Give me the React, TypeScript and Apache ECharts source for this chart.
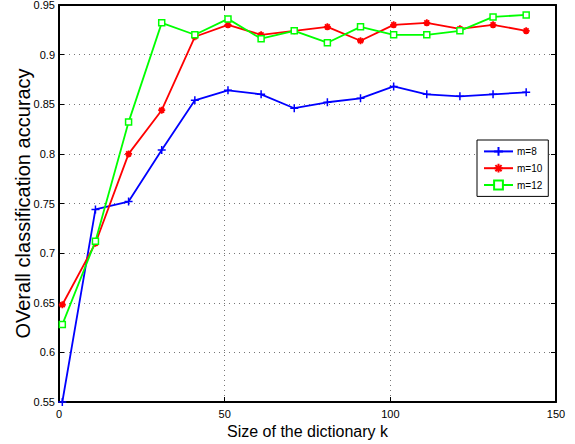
import React, { useEffect, useRef } from "react";
import * as echarts from "echarts";

const kValues = [1, 11, 21, 31, 41, 51, 61, 71, 81, 91, 101, 111, 121, 131, 141];
const m8 = [0.55, 0.744, 0.752, 0.804, 0.854, 0.864, 0.86, 0.846, 0.852, 0.856, 0.868, 0.86, 0.858, 0.86, 0.862];
const m10 = [0.648, 0.71, 0.8, 0.844, 0.918, 0.93, 0.92, 0.924, 0.928, 0.914, 0.93, 0.932, 0.926, 0.93, 0.924];
const m12 = [0.628, 0.712, 0.832, 0.932, 0.92, 0.936, 0.916, 0.924, 0.912, 0.928, 0.92, 0.92, 0.924, 0.938, 0.94];
const seriesNames = ["m=8", "m=10", "m=12"];
const xTitle = "Size of the dictionary k";
const yTitle = "OVerall classification accuracy";

const FONT = "'Liberation Sans', Arial, Helvetica, sans-serif";

const plusPath = "path://M5,0L5,10M0,5L10,5";
const starPath = "path://M5,0L5,10M0,5L10,5M1.5,1.5L8.5,8.5M8.5,1.5L1.5,8.5";

export default function App() {
  const ref = useRef<HTMLDivElement>(null);
  useEffect(() => {
    if (!ref.current) return;
    const chart = echarts.init(ref.current, null, { renderer: "svg" });
    const pairs = (vals: number[]) => kValues.map((k, i) => [k, vals[i]]);
    const gridLine = { show: true, lineStyle: { color: "#777", width: 1, type: [1, 4] as any } };
    chart.setOption({
      animation: false,
      backgroundColor: "#fff",
      grid: { left: 59, top: 5, right: 19, bottom: 42, containLabel: false, outerBoundsMode: "none" },
      legend: {
        orient: "vertical",
        left: 477,
        top: 140,
        padding: [6, 6, 6, 6],
        itemGap: 6,
        itemWidth: 29,
        itemHeight: 11,
        borderColor: "#000",
        borderWidth: 1,
        borderRadius: 0,
        backgroundColor: "#fff",
        textStyle: { fontFamily: FONT, fontSize: 10, color: "#000", padding: [0, 0, 0, -1] },
        data: seriesNames,
      },
      xAxis: [
        {
          type: "value",
          min: 0,
          max: 150,
          interval: 50,
          name: xTitle,
          nameLocation: "middle",
          nameGap: 21,
          nameMoveOverlap: false,
          nameTextStyle: { fontFamily: FONT, fontSize: 16, color: "#000" },
          axisLine: { show: true, onZero: false, lineStyle: { color: "#000", width: 2 } },
          axisTick: { show: true, inside: true, length: 5, lineStyle: { color: "#000" } },
          axisLabel: { fontFamily: FONT, fontSize: 11, color: "#000", margin: 6 },
          splitLine: gridLine,
        },
        {
          type: "value",
          position: "top",
          min: 0,
          max: 150,
          interval: 50,
          axisLine: { show: true, onZero: false, lineStyle: { color: "#000", width: 2 } },
          axisTick: { show: true, inside: true, length: 5, lineStyle: { color: "#000" } },
          axisLabel: { show: false },
          splitLine: { show: false },
        },
      ],
      yAxis: [
        {
          type: "value",
          min: 0.55,
          max: 0.95,
          interval: 0.05,
          name: yTitle,
          nameLocation: "middle",
          nameGap: 26,
          nameMoveOverlap: false,
          nameTextStyle: { fontFamily: FONT, fontSize: 20, color: "#000" },
          axisLine: { show: true, onZero: false, lineStyle: { color: "#000", width: 2 } },
          axisTick: { show: true, inside: true, length: 5, lineStyle: { color: "#000" } },
          axisLabel: {
            fontFamily: FONT,
            fontSize: 11,
            color: "#000",
            margin: 4,
            formatter: (v: number) => String(parseFloat(v.toFixed(2))),
          },
          splitLine: gridLine,
        },
        {
          type: "value",
          position: "right",
          min: 0.55,
          max: 0.95,
          interval: 0.05,
          axisLine: { show: true, onZero: false, lineStyle: { color: "#000", width: 2 } },
          axisTick: { show: true, inside: true, length: 5, lineStyle: { color: "#000" } },
          axisLabel: { show: false },
          splitLine: { show: false },
        },
      ],
      series: [
        {
          name: seriesNames[0],
          type: "line",
          data: pairs(m8),
          lineStyle: { color: "#0000ff", width: 1.8 },
          symbol: plusPath,
          symbolSize: 8,
          itemStyle: { color: "#0000ff", borderColor: "#0000ff", borderWidth: 1.5 },
          z: 3,
        },
        {
          name: seriesNames[1],
          type: "line",
          data: pairs(m10),
          lineStyle: { color: "#ff0000", width: 1.8 },
          symbol: starPath,
          symbolSize: 7,
          itemStyle: { color: "#ff0000", borderColor: "#ff0000", borderWidth: 1.8 },
          z: 4,
        },
        {
          name: seriesNames[2],
          type: "line",
          data: pairs(m12),
          lineStyle: { color: "#00ff00", width: 1.8 },
          symbol: "rect",
          symbolSize: 6,
          itemStyle: { color: "#ffffff", borderColor: "#00ff00", borderWidth: 1.5 },
          z: 5,
        },
      ],
    });
    return () => chart.dispose();
  }, []);
  return (
    <div
      ref={ref}
      style={{ position: "fixed", left: 0, top: 0, width: 575, height: 444, background: "#fff" }}
    />
  );
}
